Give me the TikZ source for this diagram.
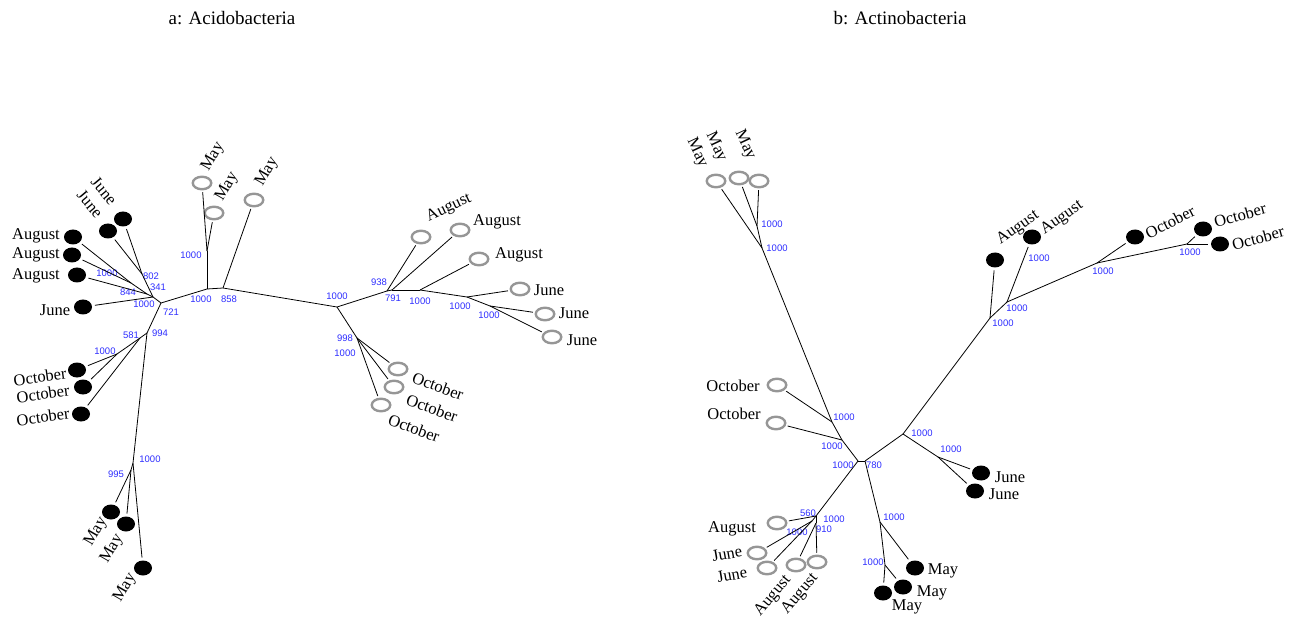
\documentclass[tikz,border=0pt]{standalone}
\usepackage{fontspec}
\setmainfont{Liberation Serif}
\newfontfamily\bootfont{Liberation Sans}
\usetikzlibrary{shapes.geometric}
\definecolor{ringgray}{RGB}{150,150,150}
\definecolor{bootblue}{RGB}{45,45,255}
\tikzset {
present/.style={shape=ellipse,fill=black,minimum width=18pt,minimum height=15pt,inner sep=0pt,outer sep=3pt},
absent/.style={shape=ellipse,draw=ringgray,line width=2.4pt,minimum width=18.5pt,minimum height=12.5pt,inner sep=0pt,outer sep=3pt},
month/.style={font=\fontsize{16.5}{18}\selectfont,inner sep=0pt},
boot/.style={font=\bootfont\fontsize{9.5}{10}\selectfont,text=bootblue,inner sep=0pt},
caption/.style={font=\fontsize{19}{21}\selectfont,inner sep=0pt}
}

\begin{document}
\begin{tikzpicture}
[x=1pt,y=-1pt,line width=0.8pt]
\useasboundingbox (0,0) rectangle (1292,617);
\node[caption] (title a) at (232,18) {a: Acidobacteria};
\node[caption] (title b) at (900,18) {b: Actinobacteria};

\coordinate (a hub) at (161,303);
\coordinate (a n341) at (153,297);
\coordinate (a n802) at (142,274);
\coordinate (a n844) at (147,294);
\coordinate (a n1000c) at (131,283);
\coordinate (a mid) at (207,289);
\coordinate (a may node) at (207,251);
\coordinate (a n858) at (223,288);
\coordinate (a root) at (337,307);
\coordinate (a n938) at (387,291);
\coordinate (a n791) at (392,290);
\coordinate (a n1000d) at (420,290);
\coordinate (a n1000e) at (467,297);
\coordinate (a n1000f) at (490,306);
\coordinate (a n998) at (357,338);
\coordinate (a n994) at (147,333);
\coordinate (a n581) at (140,338);
\coordinate (a n1000g) at (117,354);
\coordinate (a n1000h) at (133,463);
\coordinate (a n995) at (131,470);

\node[present] (a aug1) at (73,237) {};
\node[present] (a aug2) at (72,255) {};
\node[present] (a aug3) at (77,275) {};
\node[present] (a jun lower) at (83,307) {};
\node[present] (a jun1) at (123,219) {};
\node[present] (a jun2) at (108,231) {};
\node[present] (a oct1) at (77,370) {};
\node[present] (a oct2) at (83,387) {};
\node[present] (a oct3) at (81,414) {};
\node[present] (a may1) at (111,512) {};
\node[present] (a may2) at (126,524) {};
\node[present] (a may3) at (143,568) {};
\node[absent] (a maya) at (202,183) {};
\node[absent] (a mayb) at (214,213) {};
\node[absent] (a mayc) at (254,200) {};
\node[absent] (a aug r1) at (421,237) {};
\node[absent] (a aug r2) at (460,230) {};
\node[absent] (a aug r3) at (479,259) {};
\node[absent] (a jun r1) at (520,289) {};
\node[absent] (a jun r2) at (545,314) {};
\node[absent] (a jun r3) at (552,337) {};
\node[absent] (a oct r1) at (398,369) {};
\node[absent] (a oct r2) at (394,387) {};
\node[absent] (a oct r3) at (381,405) {};

\node[month] (a aug1 text) at (36,236) {August};
\node[month] (a aug2 text) at (36,255) {August};
\node[month] (a aug3 text) at (36,276) {August};
\node[month] (a jun lower text) at (55,310) {June};
\node[month,rotate=-50] (a jun1 text) at (104,191) {June};
\node[month,rotate=-50] (a jun2 text) at (90,204) {June};
\node[month,rotate=8] (a oct1 text) at (40,377) {October};
\node[month,rotate=8] (a oct2 text) at (43,394) {October};
\node[month,rotate=8] (a oct3 text) at (43,417) {October};
\node[month,rotate=60] (a may1 text) at (96,532) {May};
\node[month,rotate=60] (a may2 text) at (112,549) {May};
\node[month,rotate=60] (a may3 text) at (125,588) {May};
\node[month,rotate=60] (a maya text) at (213,157) {May};
\node[month,rotate=60] (a mayb text) at (227,187) {May};
\node[month,rotate=60] (a mayc text) at (267,172) {May};
\node[month,rotate=25] (a aug r1 text) at (449,208) {August};
\node[month] (a aug r2 text) at (497,222) {August};
\node[month] (a aug r3 text) at (519,255) {August};
\node[month] (a jun r1 text) at (549,290) {June};
\node[month] (a jun r2 text) at (574,313) {June};
\node[month] (a jun r3 text) at (582,340) {June};
\node[month,rotate=-20] (a oct r1 text) at (438,386) {October};
\node[month,rotate=-20] (a oct r2 text) at (432,408) {October};
\node[month,rotate=-20] (a oct r3 text) at (414,428) {October};

\node[boot] (a b1) at (107,273) {1000};
\node[boot] (a b2) at (128,292) {844};
\node[boot] (a b3) at (144,304) {1000};
\node[boot] (a b4) at (151,276) {802};
\node[boot] (a b5) at (158,287) {341};
\node[boot] (a b6) at (171,312) {721};
\node[boot] (a b7) at (191,255) {1000};
\node[boot] (a b8) at (201,299) {1000};
\node[boot] (a b9) at (229,299) {858};
\node[boot] (a b10) at (131,335) {581};
\node[boot] (a b11) at (160,333) {994};
\node[boot] (a b12) at (105,351) {1000};
\node[boot] (a b13) at (150,459) {1000};
\node[boot] (a b14) at (116,474) {995};
\node[boot] (a b15) at (337,296) {1000};
\node[boot] (a b16) at (379,282) {938};
\node[boot] (a b17) at (393,298) {791};
\node[boot] (a b18) at (420,301) {1000};
\node[boot] (a b19) at (460,306) {1000};
\node[boot] (a b20) at (489,315) {1000};
\node[boot] (a b21) at (345,338) {998};
\node[boot] (a b22) at (345,353) {1000};

\draw (a hub) to (a mid);
\draw (a hub) to (a n341);
\draw (a hub) to (a n994);
\draw (a n341) to (a n802);
\draw (a n802) to (a jun1);
\draw (a n802) to (a jun2);
\draw (a n341) to (a n844);
\draw (a n844) to (a n1000c);
\draw (a n1000c) to (a aug1);
\draw (a n1000c) to (a aug2);
\draw (a n844) to (a aug3);
\draw (a n341) to (a jun lower);
\draw (a mid) to (a may node);
\draw (a may node) to (a maya);
\draw (a may node) to (a mayb);
\draw (a mid) to (a n858);
\draw (a n858) to (a mayc);
\draw (a n858) to (a root);
\draw (a root) to (a n938);
\draw (a n938) to (a aug r1);
\draw (a n938) to (a n791);
\draw (a n791) to (a aug r2);
\draw (a n791) to (a n1000d);
\draw (a n1000d) to (a aug r3);
\draw (a n1000d) to (a n1000e);
\draw (a n1000e) to (a jun r1);
\draw (a n1000e) to (a n1000f);
\draw (a n1000f) to (a jun r2);
\draw (a n1000f) to (a jun r3);
\draw (a root) to (a n998);
\draw (a n998) to (a oct r1);
\draw (a n998) to (a oct r2);
\draw (a n998) to (a oct r3);
\draw (a n994) to (a n581);
\draw (a n581) to (a n1000g);
\draw (a n1000g) to (a oct1);
\draw (a n1000g) to (a oct2);
\draw (a n581) to (a oct3);
\draw (a n994) to (a n1000h);
\draw (a n1000h) to (a n995);
\draw (a n995) to (a may1);
\draw (a n995) to (a may2);
\draw (a n1000h) to (a may3);

\coordinate (b q1) at (762,248);
\coordinate (b q2) at (757,226);
\coordinate (b o1) at (832,422);
\coordinate (b o2) at (842,440);
\coordinate (b x1) at (858,461);
\coordinate (b x2) at (865,461);
\coordinate (b g) at (816,516);
\coordinate (b g1) at (812,521);
\coordinate (b g2) at (816,523);
\coordinate (b h2) at (880,522);
\coordinate (b h3) at (885,565);
\coordinate (b y) at (903,434);
\coordinate (b z) at (938,457);
\coordinate (b w) at (990,318);
\coordinate (b v) at (1007,302);
\coordinate (b u) at (1097,263);
\coordinate (b t) at (1187,244);

\node[absent] (b maya) at (716,181) {};
\node[absent] (b mayb) at (739,178) {};
\node[absent] (b mayc) at (759,181) {};
\node[absent] (b oct1) at (777,385) {};
\node[absent] (b oct2) at (776,423) {};
\node[absent] (b aug l) at (777,523) {};
\node[absent] (b jun1) at (757,553) {};
\node[absent] (b jun2) at (767,568) {};
\node[absent] (b augb) at (796,565) {};
\node[absent] (b augc) at (817,562) {};
\node[present] (b may1) at (915,568) {};
\node[present] (b may2) at (903,587) {};
\node[present] (b may3) at (883,593) {};
\node[present] (b jun r1) at (981,473) {};
\node[present] (b jun r2) at (975,491) {};
\node[present] (b aug r1) at (995,260) {};
\node[present] (b aug r2) at (1032,237) {};
\node[present] (b oct r1) at (1135,237) {};
\node[present] (b oct r2) at (1203,229) {};
\node[present] (b oct r3) at (1220,244) {};

\node[month,rotate=-65] (b maya text) at (697,153) {May};
\node[month,rotate=-65] (b mayb text) at (716,147) {May};
\node[month,rotate=-65] (b mayc text) at (745,145) {May};
\node[month] (b oct1 text) at (733,386) {October};
\node[month] (b oct2 text) at (734,414) {October};
\node[month] (b aug l text) at (732,529) {August};
\node[month,rotate=10] (b jun1 text) at (727,554) {June};
\node[month,rotate=10] (b jun2 text) at (732,575) {June};
\node[month,rotate=50] (b augb text) at (773,596) {August};
\node[month,rotate=50] (b augc text) at (800,594) {August};
\node[month] (b may1 text) at (943,571) {May};
\node[month] (b may2 text) at (932,593) {May};
\node[month] (b may3 text) at (907,607) {May};
\node[month] (b jun r1 text) at (1010,477) {June};
\node[month] (b jun r2 text) at (1004,494) {June};
\node[month,rotate=35] (b aug r1 text) at (1018,228) {August};
\node[month,rotate=35] (b aug r2 text) at (1062,218) {August};
\node[month,rotate=27] (b oct r1 text) at (1170,222) {October};
\node[month,rotate=15] (b oct r2 text) at (1240,215) {October};
\node[month,rotate=15] (b oct r3 text) at (1258,238) {October};

\node[boot] (b b1) at (772,224) {1000};
\node[boot] (b b2) at (777,248) {1000};
\node[boot] (b b3) at (844,417) {1000};
\node[boot] (b b4) at (832,446) {1000};
\node[boot] (b b5) at (843,465) {1000};
\node[boot] (b b6) at (874,465) {780};
\node[boot] (b b7) at (808,513) {560};
\node[boot] (b b8) at (834,519) {1000};
\node[boot] (b b9) at (797,532) {1000};
\node[boot] (b b10) at (824,529) {910};
\node[boot] (b b11) at (894,517) {1000};
\node[boot] (b b12) at (873,562) {1000};
\node[boot] (b b13) at (922,433) {1000};
\node[boot] (b b14) at (951,449) {1000};
\node[boot] (b b15) at (1003,323) {1000};
\node[boot] (b b16) at (1017,308) {1000};
\node[boot] (b b17) at (1039,258) {1000};
\node[boot] (b b18) at (1103,271) {1000};
\node[boot] (b b19) at (1190,252) {1000};

\draw (b q2) to (b mayb);
\draw (b q2) to (b mayc);
\draw (b q1) to (b q2);
\draw (b q1) to (b maya);
\draw (b q1) to (b o1);
\draw (b o1) to (b oct1);
\draw (b o1) to (b o2);
\draw (b o2) to (b oct2);
\draw (b o2) to (b x1);
\draw (b x1) to (b x2);
\draw (b x1) to (b g);
\draw (b g) to (b aug l);
\draw (b g) to (b g1);
\draw (b g1) to (b jun1);
\draw (b g1) to (b jun2);
\draw (b g) to (b g2);
\draw (b g2) to (b augb);
\draw (b g2) to (b augc);
\draw (b x2) to (b h2);
\draw (b h2) to (b may1);
\draw (b h2) to (b h3);
\draw (b h3) to (b may2);
\draw (b h3) to (b may3);
\draw (b x2) to (b y);
\draw (b y) to (b z);
\draw (b z) to (b jun r1);
\draw (b z) to (b jun r2);
\draw (b y) to (b w);
\draw (b w) to (b aug r1);
\draw (b w) to (b v);
\draw (b v) to (b aug r2);
\draw (b v) to (b u);
\draw (b u) to (b oct r1);
\draw (b u) to (b t);
\draw (b t) to (b oct r2);
\draw (b t) to (b oct r3);
\end{tikzpicture}
\end{document}
